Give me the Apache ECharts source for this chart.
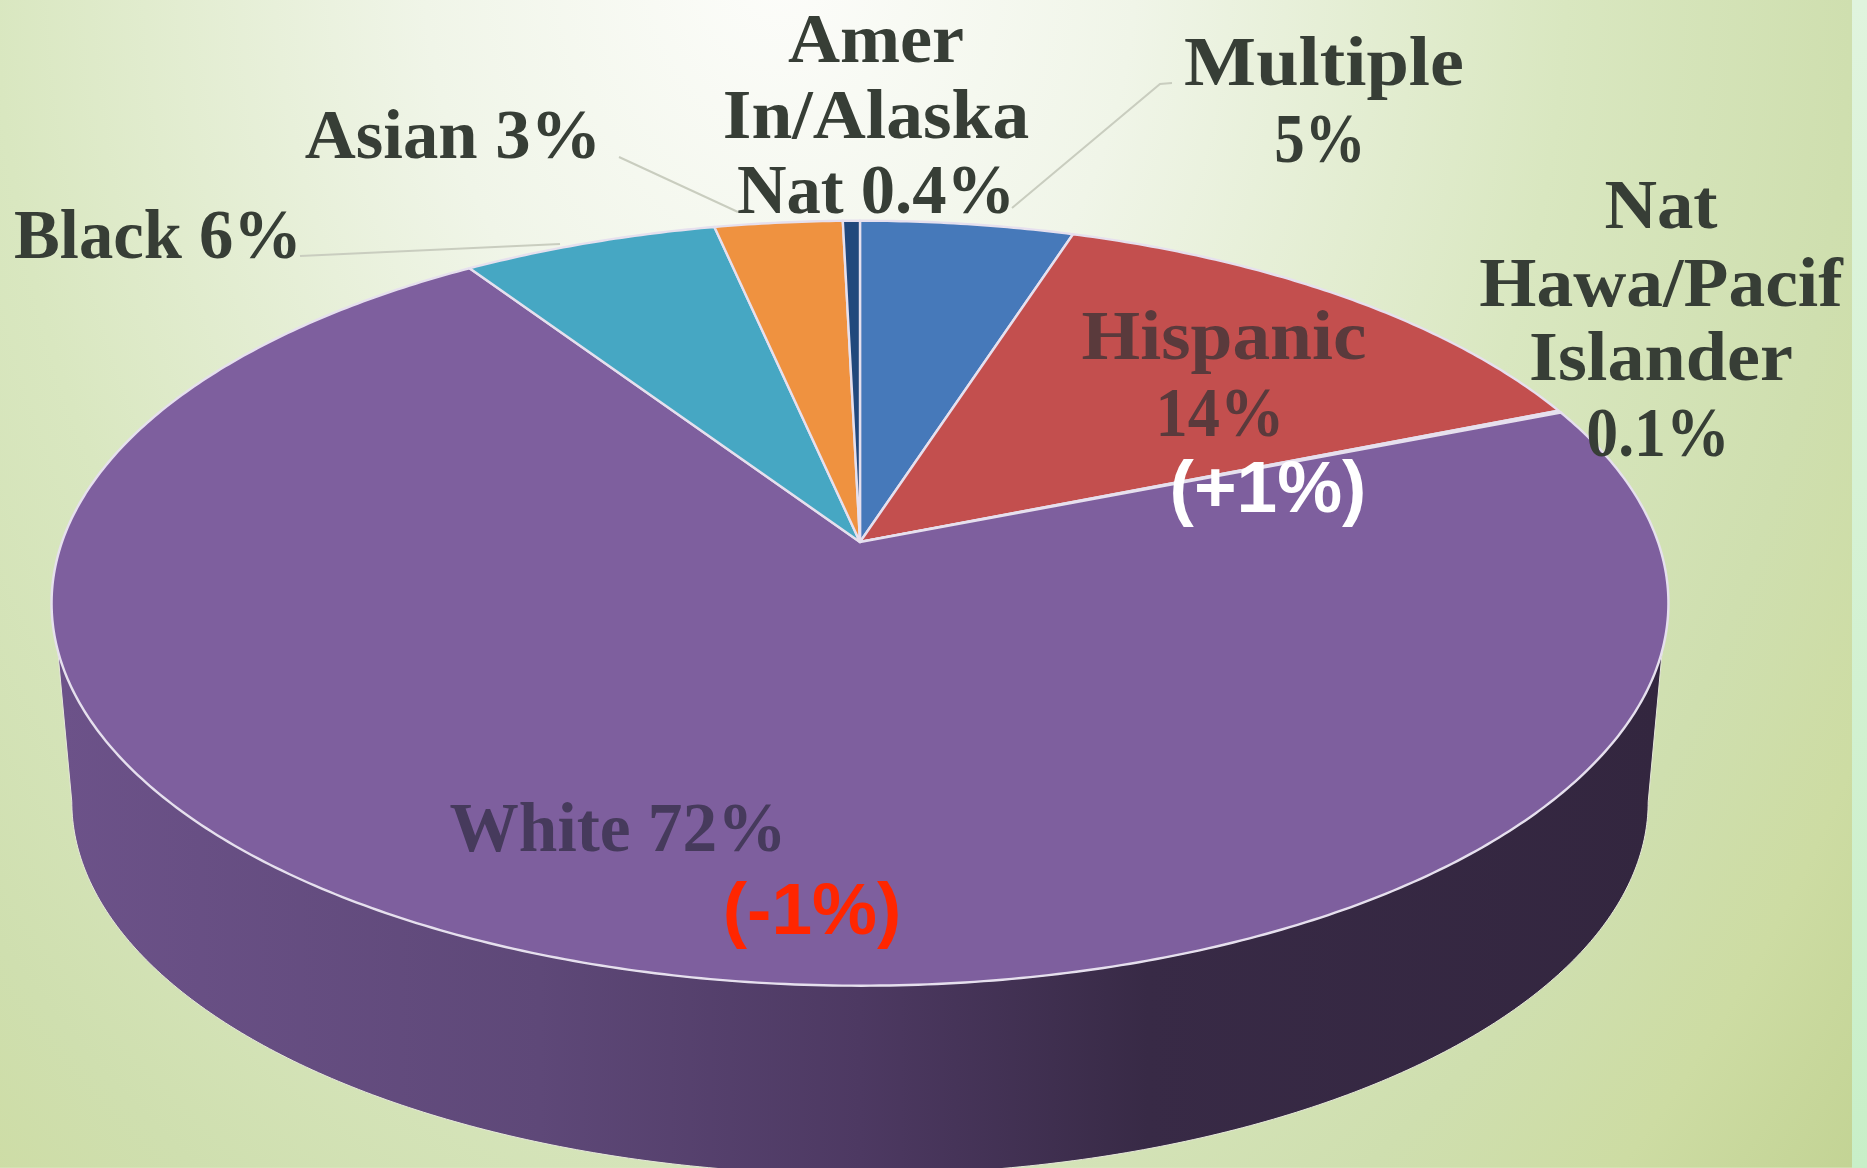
<!DOCTYPE html>
<html>
<head>
<meta charset="utf-8">
<style>html,body{margin:0;padding:0;background:#fff;overflow:hidden}#c{width:1867px;height:1168px}</style>
<script src="https://cdn.jsdelivr.net/npm/echarts@6/dist/echarts.min.js"></script>
</head>
<body>
<div id="c"></div>
<script>
// Data, clockwise from 12 o'clock
const categories = ['Multiple','Hispanic','Nat Hawa/Pacif Islander','White','Black','Asian','Amer In/Alaska Nat'];
const values = [5, 14, 0.1, 72, 6, 3, 0.4];
const sliceColors = ['#4679ba','#c34f4e','#e9bccb','#7e5f9e','#46a7c3','#ef9240','#21487c'];

// Text
const labelLines = [
  ['Amer','In/Alaska','Nat 0.4%'],
  ['Multiple','5%'],
  ['Asian 3%'],
  ['Black 6%'],
  ['Nat','Hawa/Pacif','Islander','0.1%'],
  ['Hispanic','14%'],
  ['White 72%']
];
const changeLabels = ['(+1%)','(-1%)'];

// Layout
const labelX = [[876,876,876],[1324,1320],[453],[158],[1661,1661,1661,1658],[1224,1220],[618]];
const labelY = [[44,120,195],[67,144],[140],[240],[210,288,362,438],[341,418],[833]];
const labelStretch = [[1.03,1.05,0.98],[1.09,0.87],[1.01],[0.98],[1.04,1.05,1.06,0.91],[1.077,0.92],[0.99]];
const labelColors = ['#373e36','#373e36','#373e36','#373e36','#373e36','#5a3a3c','#463a5c'];
const changePos = [[1268,492,'#ffffff'],[812,914,'#ff2600']];
const leaders = [
  [[300,256],[560,244]],
  [[619,157],[738,212]],
  [[1012,208],[1160,84],[1172,83]]
];

const W = 1867, H = 1168;
const total = values.reduce((a,b)=>a+b,0);
const apex = [860,542], A = 798, B = 372.7, K = -0.16;
const depthScale = 0.975, baseApex = [860,742];

function project(theta, base){
  const u = Math.sin(theta), v = -Math.cos(theta), d = 1 + K*v;
  const x = A*u/d, y = B*v/d;
  return base ? [baseApex[0]+depthScale*x, baseApex[1]+depthScale*y] : [apex[0]+x, apex[1]+y];
}
function arc(t0,t1,base){
  const n = Math.max(2, Math.ceil(Math.abs(t1-t0)/0.01));
  const pts = [];
  for(let i=0;i<=n;i++) pts.push(project(t0+(t1-t0)*i/n,base));
  return pts;
}

function renderSlice(params, api){
  const i = params.dataIndex;
  let before = 0;
  for(let j=0;j<i;j++) before += values[j];
  const t0 = before/total*2*Math.PI;
  const t1 = (before+api.value(0))/total*2*Math.PI;
  return {
    type:'polygon',
    shape:{points:[apex].concat(arc(t0,t1,false))},
    style:{fill:sliceColors[i],stroke:'#e6e0ee',lineWidth:2.4,lineJoin:'round'}
  };
}
function renderWall(){
  // side wall between the rim and the lower disc outline, front part only
  const topT = Math.acos(-0.277), baseT = Math.acos(-0.16);
  const pts = arc(topT,2*Math.PI-topT,false);
  const basePts = arc(2*Math.PI-baseT,baseT,true);
  return {
    type:'polygon',
    shape:{points:pts.concat(basePts)},
    style:{
      fill:new echarts.graphic.LinearGradient(60,0,1660,0,[
        {offset:0,color:'#6c5289'},{offset:0.3,color:'#5e4878'},
        {offset:0.5,color:'#4d3962'},{offset:0.68,color:'#382a46'},{offset:1,color:'#33263f'}
      ],true),
      stroke:'#e6e8da',lineWidth:1
    }
  };
}

const textEls = [];
labelLines.forEach((lines,i)=>{
  lines.forEach((s,j)=>{
    textEls.push({type:'text',z:20,x:labelX[i][j],y:labelY[i][j],scaleX:labelStretch[i][j],
      style:{text:s,fill:labelColors[i],font:'bold 70px "Liberation Serif"',align:'center',verticalAlign:'middle',
        shadowColor:labelColors[i],shadowBlur:2}});
  });
});
changeLabels.forEach((s,i)=>{
  textEls.push({type:'text',z:21,x:changePos[i][0],y:changePos[i][1],
    style:{text:s,fill:changePos[i][2],font:'bold 73px "Liberation Sans"',align:'center',verticalAlign:'middle'}});
});
const leaderEls = leaders.map(p=>({type:'polyline',z:15,shape:{points:p},style:{stroke:'#c9cdbf',lineWidth:2,fill:null}}));
const backdrop = {type:'rect',z:-1,x:0,y:-60,scaleY:1.364,shape:{x:0,y:0,width:W,height:900},silent:true,
  style:{fill:new echarts.graphic.RadialGradient(780,0,1430,[
    {offset:0,color:'#fdfdfb'},{offset:0.25,color:'#f0f5e8'},{offset:0.55,color:'#d9e7c0'},
    {offset:0.75,color:'#cfdfaf'},{offset:0.86,color:'#cddca3'},{offset:1,color:'#c1d292'}
  ],true)}};
const stripe = {type:'rect',z:30,shape:{x:1852,y:0,width:15,height:H},
  style:{fill:new echarts.graphic.LinearGradient(0,0,0,1,[{offset:0,color:'#e0f4de'},{offset:1,color:'#c8efc8'}])}};

const chart = echarts.init(document.getElementById('c'),null,{renderer:'canvas',width:W,height:H});
chart.setOption({
  animation:false,
  backgroundColor:'#d9e7c0',
  series:[
    {type:'custom',name:'Side',coordinateSystem:'none',z:2,silent:true,data:[[1]],renderItem:renderWall},
    {type:'custom',name:'Share',coordinateSystem:'none',z:3,silent:true,
      data:categories.map((c,i)=>({name:c,value:[values[i]]})),renderItem:renderSlice}
  ],
  graphic:{elements:[backdrop].concat(leaderEls,textEls,[stripe])}
});
</script>
</body>
</html>
